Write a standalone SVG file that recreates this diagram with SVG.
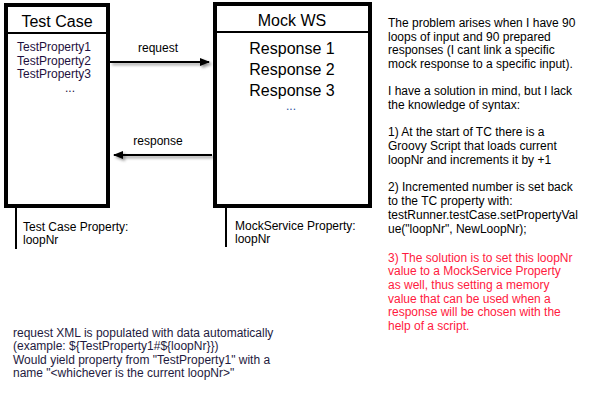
<svg xmlns="http://www.w3.org/2000/svg" width="600" height="400" viewBox="0 0 600 400">
<style>
text{font-family:"Liberation Sans",Arial,sans-serif;font-size:12px;fill:#000}
.box{fill:#fff;stroke:#000;stroke-width:4}
.div{stroke:#000;stroke-width:2}
.title{font-size:16px;text-anchor:middle}
.resp{font-size:16px;text-anchor:middle}
.prop{fill:#1e1040}
.life{stroke:#000;stroke-width:2}
.red{fill:#ff1a40}
.conn{stroke:#000;stroke-width:2;fill:none}
.note{fill:#1e1a40}
</style>
<defs>
<filter id="sh" filterUnits="userSpaceOnUse" x="0" y="0" width="600" height="400">
<feDropShadow dx="2" dy="2" stdDeviation="1.5" flood-color="#000" flood-opacity="0.45"/>
</filter>
<marker id="ah" markerWidth="10" markerHeight="8" refX="9" refY="4" orient="auto" markerUnits="userSpaceOnUse">
<path d="M0,0 L10,4 L0,8 Z" fill="#000"/>
</marker>
</defs>
<rect width="600" height="400" fill="#fff"/>
<g id="test-case">
<rect class="box" x="6" y="5" width="102" height="201"/>
<line class="div" x1="6" y1="33" x2="108" y2="33"/>
<text class="title" x="57" y="27">Test Case</text>
<text class="prop" x="17" y="51">TestProperty1</text>
<text class="prop" x="17" y="64.5">TestProperty2</text>
<text class="prop" x="17" y="78">TestProperty3</text>
<text class="prop" x="65" y="92">...</text>
<line class="life" x1="16" y1="207" x2="16" y2="249"/>
<text x="23" y="231">Test Case Property:</text>
<text x="23" y="244">loopNr</text>
</g>
<g id="mock-ws">
<rect class="box" x="215" y="4" width="155" height="202"/>
<line class="div" x1="215" y1="32" x2="370" y2="32"/>
<text class="title" x="292" y="26">Mock WS</text>
<text class="resp" x="292" y="54">Response 1</text>
<text class="resp" x="292" y="75">Response 2</text>
<text class="resp" x="292" y="96">Response 3</text>
<text x="291" y="110" style="text-anchor:middle;fill:#3050a0">...</text>
<line class="life" x1="226" y1="207" x2="226" y2="247"/>
<text x="235" y="230">MockService Property:</text>
<text x="235" y="243">loopNr</text>
</g>
<g id="connectors">
<line class="conn" x1="110" y1="62" x2="209" y2="62" marker-end="url(#ah)" filter="url(#sh)"/>
<text x="158" y="52" style="text-anchor:middle">request</text>
<line class="conn" x1="212" y1="155" x2="114" y2="155" marker-end="url(#ah)" filter="url(#sh)"/>
<text x="158" y="145" style="text-anchor:middle">response</text>
</g>
<g id="notes">
<text x="388" y="27">The problem arises when I have 90</text>
<text x="388" y="41">loops of input and 90 prepared</text>
<text x="388" y="54">responses (I cant link a specific</text>
<text x="388" y="68">mock response to a specific input).</text>
<text x="388" y="95">I have a solution in mind, but I lack</text>
<text x="388" y="109">the knowledge of syntax:</text>
<text x="388" y="136">1) At the start of TC there is a</text>
<text x="388" y="150">Groovy Script that loads current</text>
<text x="388" y="164">loopNr and increments it by +1</text>
<text x="388" y="191">2) Incremented number is set back</text>
<text x="388" y="205">to the TC property with:</text>
<text x="388" y="219">testRunner.testCase.setPropertyVal</text>
<text x="388" y="233">ue("loopNr", NewLoopNr);</text>
<text class="red" x="388" y="262">3) The solution is to set this loopNr</text>
<text class="red" x="388" y="275">value to a MockService Property</text>
<text class="red" x="388" y="289">as well, thus setting a memory</text>
<text class="red" x="388" y="303">value that can be used when a</text>
<text class="red" x="388" y="316">response will be chosen with the</text>
<text class="red" x="388" y="330">help of a script.</text>
<text class="note" x="13" y="337">request XML is populated with data automatically</text>
<text class="note" x="13" y="350">(example: ${TestProperty1#${loopNr}})</text>
<text class="note" x="13" y="364">Would yield property from "TestProperty1" with a</text>
<text class="note" x="13" y="377">name "&lt;whichever is the current loopNr&gt;"</text>
</g>
</svg>
